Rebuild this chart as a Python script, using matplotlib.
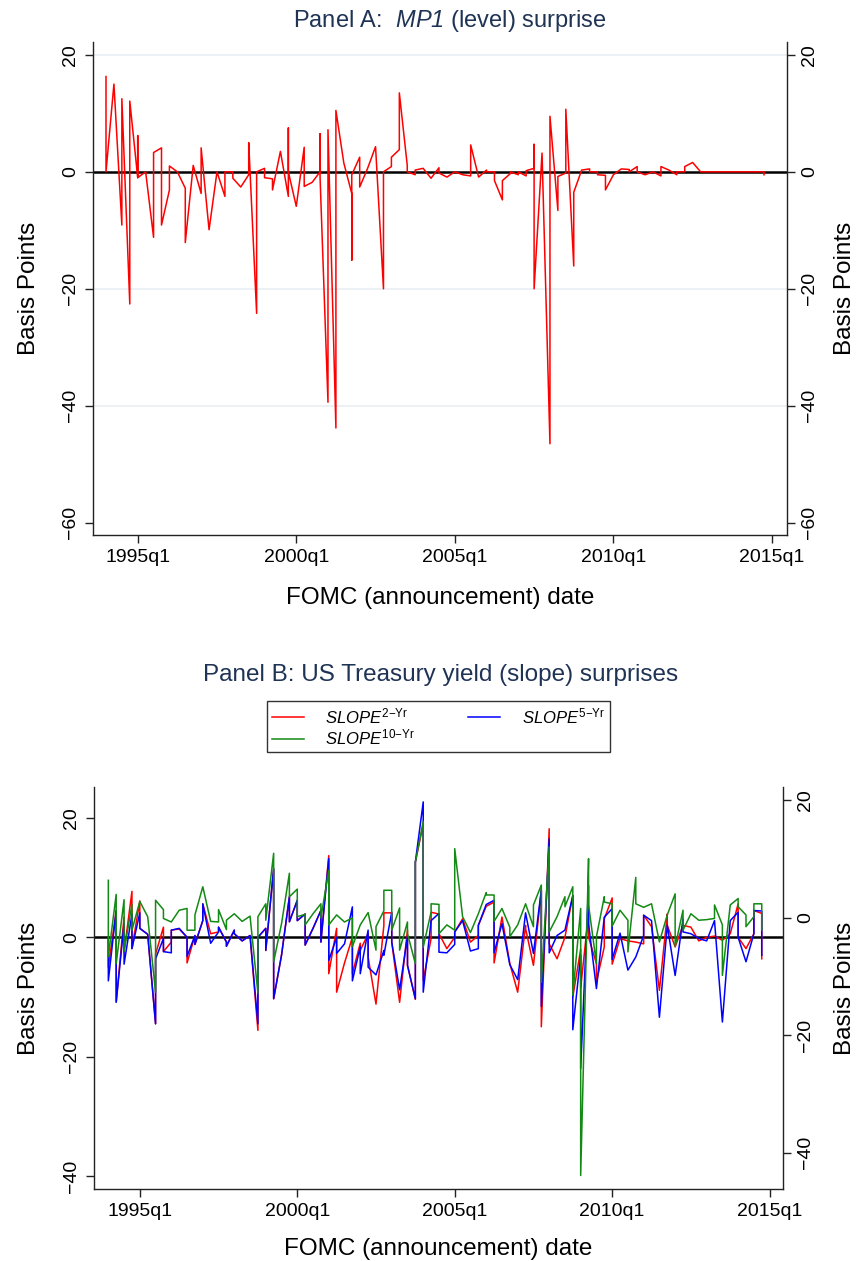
import matplotlib
matplotlib.use('Agg')
import matplotlib.pyplot as plt

plt.rcParams['font.family'] = ['Liberation Sans', 'DejaVu Sans']
plt.rcParams['mathtext.fontset'] = 'custom'
plt.rcParams['mathtext.rm'] = 'Liberation Sans'
plt.rcParams['mathtext.it'] = 'Liberation Sans:italic'
plt.rcParams['mathtext.sf'] = 'Liberation Sans:italic'

# ---------------- data (one list of meeting values per quarter, from 1994q1) ----------------
first_quarter = "1994q1"
tick_labels = ["1995q1", "2000q1", "2005q1", "2010q1", "2015q1"]

mp1 = [
    [16.3, 0.0], [15.0], [-9.1, 12.5], [-22.6, 12.1],
    [-1.0, 6.2, -1.0], [0.0], [-11.2, 3.3], [4.1, -9.1],
    [-3.1, 1.0], [0.0], [-2.8, -12.1], [1.1],
    [-3.7, 4.1], [-9.9], [0.0], [-4.2, 0.0],
    [0.0, -1.1], [-2.6], [-0.5, 5.0], [-24.2, 0.0],
    [0.6, -1.0], [-1.2, -3.1], [3.5], [-4.2, 7.5, 0.0],
    [-5.9], [4.2, -2.5], [-1.8], [0.0, 6.5, -0.9],
    [-39.4, 7.2], [-43.8, 10.5], [1.5], [-3.7, -15.1, -0.5],
    [2.5, -2.6], [0.6], [4.3], [-20.0, 0.0],
    [0.9, 2.5], [3.8, 13.5], [1.1, 0.0], [-0.5, 0.3],
    [0.6], [-1.1], [0.7, -0.2], [-0.9],
    [0.0], [-0.5], [-0.7, 4.6], [-0.9],
    [0.3, 0.0], [0.0, -1.5], [-4.8, -1.5], [-0.3, 0.0],
    [-0.5, 0.0], [-0.7, 0.2], [0.6, 4.7, -20.0], [3.2],
    [-46.5, 9.5], [-6.6, -0.8], [-0.2, 10.7], [-16.1, -3.5],
    [0.3], [0.5, 0.0], [0.0, -0.5], [-0.6, -3.1],
    [-0.5], [0.5], [0.4, 0.0], [0.9, 0.0],
    [-0.5], [0.0], [-0.7, 0.9], [0.3],
    [-0.5, 0.0], [0.0, 0.9], [1.6], [0.0],
    [0.0], [0.0], [0.0], [0.0],
    [0.0], [0.0], [0.0], [0.0, -0.5],
]

slope2 = [
    [0.0, -5.0], [4.5, -10.8], [3.4, -2.5], [7.7, -1.9],
    [6.1, 1.5], [0.5], [-14.5, -2.8], [1.7, -2.4],
    [-0.8, 1.2], [1.4], [0.0, -4.3], [0.3, -1.2],
    [2.8, 5.6], [0.6], [0.9, 1.7], [-0.8, -1.5],
    [1.2, 0.6], [-0.6], [0.3], [-15.6, 0.0],
    [1.5, -2.2], [11.5, -10.3], [-3.0], [6.8, 2.6],
    [6.2, 2.8], [3.9, -1.3], [1.5], [4.5, -0.8],
    [13.7, -6.1], [1.5, -9.2], [-4.3], [0.0, -6.1],
    [-1.0, -2.2], [0.6, -3.3], [-11.2], [2.0, 4.1],
    [4.1, -0.8], [-10.9], [1.2, -4.7], [-10.4, 12.6],
    [19.0, -7.2], [-0.2, 4.2], [3.9, 0.6], [-1.9],
    [0.0, 0.9], [3.1], [-0.8], [0.3, 2.0],
    [5.2], [5.9, -4.3], [3.4], [-4.4],
    [-9.2], [2.0, 1.5], [-4.7], [7.9, -15.0],
    [18.2, -1.1], [-3.6], [0.0], [7.0, -10.0],
    [-2.0, -8.5], [4.0, 0.0], [-4.4, -7.5], [-1.6, 3.1],
    [6.6, -4.5], [-0.2], [-0.6], [-0.8],
    [-1.1, 3.7], [1.8], [-8.9], [3.9, 2.0],
    [-1.6], [2.0], [1.7], [-0.6],
    [0.0], [0.2], [-0.5], [0.6],
    [5.6, 0.0], [-1.9], [0.6, 4.5], [4.0, -3.6],
]

slope5 = [
    [0.0, -7.3], [4.5, -10.9], [2.3, -4.5], [3.9, -1.9],
    [4.1, 1.5], [0.5], [-14.5, -3.6], [-0.2, -2.4],
    [-2.6, 1.2], [1.5], [0.0, -3.2], [0.3, -1.2],
    [2.8, 5.6], [-1.0], [0.9, 1.7], [-0.8, -1.5],
    [1.2, 0.6], [-0.6], [0.3], [-14.5, 0.0],
    [1.5, -2.2], [11.5, -10.3], [-3.0], [6.8, 2.6],
    [6.2, 2.8], [3.9, -1.3], [1.5], [4.5, -0.8],
    [13.2, -3.9], [0.0, -2.7], [-1.1], [5.1, -7.3],
    [-1.6, -6.1], [1.2, -5.0], [-6.3], [-2.2, -3.0],
    [4.2, -0.8], [-8.8], [0.2, -4.7], [-10.3, 12.6],
    [22.7, -9.2], [2.8], [4.0, -2.5], [-2.6],
    [-1.2, 0.9], [2.8], [-2.3], [-1.9, 2.0],
    [5.5], [6.2, -2.6], [2.3], [-4.6],
    [-7.1], [4.1], [-2.7], [7.9, -11.6],
    [16.5, -2.6], [0.3], [1.2], [7.0, -15.5],
    [-3.0, -22.0], [8.7, 2.3], [-8.6], [3.4],
    [4.8, -3.7], [0.7], [-5.5], [-3.3],
    [0.3, 3.7], [2.8], [-13.4], [2.0],
    [-6.4], [3.1, 0.9], [0.6], [-0.2],
    [-0.6], [2.8], [-14.2], [2.8],
    [4.2, 0.0], [-4.1], [0.6, 4.5], [4.4, -3.0],
]

slope10 = [
    [6.4, -6.6], [4.0, -7.8], [3.1, -5.7], [2.3, -2.1],
    [2.8], [0.2], [-12.7, 3.0], [1.4, -0.1],
    [-0.7], [1.3], [1.6, -2.1], [-2.1, 0.5],
    [5.3], [-0.6], [-0.7, 1.4], [-2.0, -0.4],
    [0.7], [-0.6], [0.3], [-12.8, 0.2],
    [2.4, -0.4], [11.0, -7.5], [-1.0], [7.6, 3.6],
    [4.9, 0.2], [0.6, -1.2], [0.7], [2.4, 0.0],
    [8.1, -1.2], [0.5], [-0.7], [0.0, -4.9],
    [-1.2], [0.9], [-5.5, -1.5], [1.2, 4.7],
    [4.7, -2.1], [1.7, -5.5], [-0.7, -2.7], [-7.8, 9.5],
    [16.4, -5.0], [1.0, 2.4], [2.3, -2.7], [-1.2],
    [-2.1, 11.8], [0.2], [-2.5], [0.7],
    [4.3, 3.9], [3.9, -0.6], [1.6], [-1.6, -3.2],
    [-1.2], [2.4], [-1.5, 2.2], [5.6, -11.0],
    [12.1, -2.4], [0.2], [3.6, 1.9], [5.3, -13.2],
    [1.6, -43.9], [10.1, 2.2], [-7.8, -3.2], [3.6, 2.7],
    [2.4, -1.4], [1.3], [-0.4, -5.8], [6.9, 2.4],
    [1.8], [2.4], [-4.1], [0.5],
    [4.1, -4.9], [1.3, -2.1], [0.7], [-0.4],
    [-0.3], [-0.1, 2.2], [-1.2, -9.8], [2.2],
    [3.3, 1.9], [0.5, -1.5], [0.2, 2.4], [2.4, -2.1],
]

series_labels = [r'$\mathit{SLOPE}^{\mathrm{2{-}Yr}}$',
                 r'$\mathit{SLOPE}^{\mathrm{5{-}Yr}}$',
                 r'$\mathit{SLOPE}^{\mathrm{10{-}Yr}}$']


# ---------------- helpers ----------------
def qindex(label):
    y, q = label.split('q')
    y0, q0 = first_quarter.split('q')
    return (int(y) - int(y0)) * 4 + int(q) - int(q0)


def flatten(series):
    xs, ys = [], []
    for i, vals in enumerate(series):
        for v in vals:
            xs.append(i)
            ys.append(v)
    return xs, ys


W, H = 859, 1261
TITLE_C = '#1f3355'
GRID_C = '#e9f0f3'
SPINE_C = '#222222'
LABEL_FS = 17.5
TICK_FS = 14


def style(ax, right=False):
    ax.spines['top'].set_visible(False)
    ax.spines['right'].set_visible(right)
    ax.spines['left'].set_visible(not right)
    for s in ['left', 'bottom', 'right']:
        ax.spines[s].set_color(SPINE_C)
        ax.spines[s].set_linewidth(1.0)
    ax.tick_params(axis='both', direction='out', length=6, width=1.0,
                   color=SPINE_C, labelsize=TICK_FS, pad=4)
    ax.tick_params(axis='y', labelrotation=90)
    for lab in ax.get_yticklabels():
        lab.set_verticalalignment('center')


def place_ylabel(ax, xpix, left_pix, width_pix):
    lab = ax.yaxis.label
    ax.yaxis.set_label_coords((xpix - left_pix) / width_pix, 0.5)
    lab.set_horizontalalignment('center')
    lab.set_verticalalignment('center')
    lab.set_rotation(90)


fig = plt.figure(figsize=(W / 100, H / 100), dpi=100)
fig.patch.set_facecolor('white')

xticks = [qindex(t) for t in tick_labels]

# ---------------- Panel A ----------------
A_L, A_W = 93, 694
axA = fig.add_axes([A_L / W, 1 - 535 / H, A_W / W, 493 / H])
ylimA = (-62.1, 22.2)
for g in [20, -20, -40]:
    axA.axhline(g, color=GRID_C, lw=1.3, zorder=0)
axA.axhline(0, color='black', lw=1.8, zorder=1)
xa, ya = flatten(mp1)
axA.plot(xa, ya, color='#ff0000', lw=1.1, zorder=3)
axA.set_xlim(-1.64, 85.9)
axA.set_ylim(*ylimA)
axA.set_yticks([-60, -40, -20, 0, 20])
axA.set_yticklabels(['\u221260', '\u221240', '\u221220', '0', '20'])
axA.set_xticks(xticks)
axA.set_xticklabels(tick_labels)
style(axA)
axA.set_ylabel('Basis Points', fontsize=LABEL_FS)
place_ylabel(axA, 29, A_L, A_W)
axA.set_xlabel('FOMC (announcement) date', fontsize=LABEL_FS, labelpad=15)

axA2 = axA.twinx()
axA2.set_ylim(*ylimA)
axA2.set_yticks([-60, -40, -20, 0, 20])
axA2.set_yticklabels(['\u221260', '\u221240', '\u221220', '0', '20'])
style(axA2, right=True)
axA2.spines['bottom'].set_visible(False)
axA2.set_ylabel('Basis Points', fontsize=LABEL_FS)
place_ylabel(axA2, 845, A_L, A_W)

fig.text(450 / W, 1 - 21 / H, r'Panel A:  $\mathsf{MP1}$ (level) surprise',
         ha='center', va='center', fontsize=17, color=TITLE_C)

# ---------------- Panel B ----------------
B_L, B_W = 94, 689
axB = fig.add_axes([B_L / W, 1 - 1189 / H, B_W / W, 402 / H])
ylimB = (-42.2, 25.2)
ylimB2 = (-46.2, 22.3)
axB.axhline(0, color='black', lw=1.8, zorder=1)
xb2, yb2 = flatten(slope2)
xb5, yb5 = flatten(slope5)
xb10, yb10 = flatten(slope10)
l2, = axB.plot(xb2, yb2, color='#ff0000', lw=1.1, zorder=3)
l5, = axB.plot(xb5, yb5, color='#0000ff', lw=1.1, zorder=4)
axB.set_xlim(-1.82, 85.7)
axB.set_ylim(*ylimB)
axB.set_yticks([-40, -20, 0, 20])
axB.set_yticklabels(['\u221240', '\u221220', '0', '20'])
axB.set_xticks(xticks)
axB.set_xticklabels(tick_labels)
style(axB)
axB.set_ylabel('Basis Points', fontsize=LABEL_FS)
place_ylabel(axB, 29, B_L, B_W)
axB.set_xlabel('FOMC (announcement) date', fontsize=LABEL_FS, labelpad=13)

axB2 = axB.twinx()
l10, = axB2.plot(xb10, yb10, color='#138a13', lw=1.1, zorder=2)
axB2.set_ylim(*ylimB2)
axB2.set_yticks([-40, -20, 0, 20])
axB2.set_yticklabels(['\u221240', '\u221220', '0', '20'])
style(axB2, right=True)
axB2.spines['bottom'].set_visible(False)
axB2.set_ylabel('Basis Points', fontsize=LABEL_FS)
place_ylabel(axB2, 845, B_L, B_W)
axB2.set_zorder(axB.get_zorder() + 1)
axB2.patch.set_visible(False)

fig.text(441 / W, 1 - 675 / H, 'Panel B: US Treasury yield (slope) surprises',
         ha='center', va='center', fontsize=17.5, color=TITLE_C)

leg = fig.legend([l2, l10, l5], [series_labels[0], series_labels[2], series_labels[1]],
                 ncol=2, loc='upper center', bbox_to_anchor=(438.5 / W, 1 - 701 / H),
                 frameon=True, fancybox=False, edgecolor='black', fontsize=12,
                 handlelength=1.9, handletextpad=1.3, columnspacing=3.2,
                 borderpad=0.3, labelspacing=0.1, borderaxespad=0)
leg.get_frame().set_linewidth(1.0)

fig.savefig('out.png', dpi=100, facecolor='white')
